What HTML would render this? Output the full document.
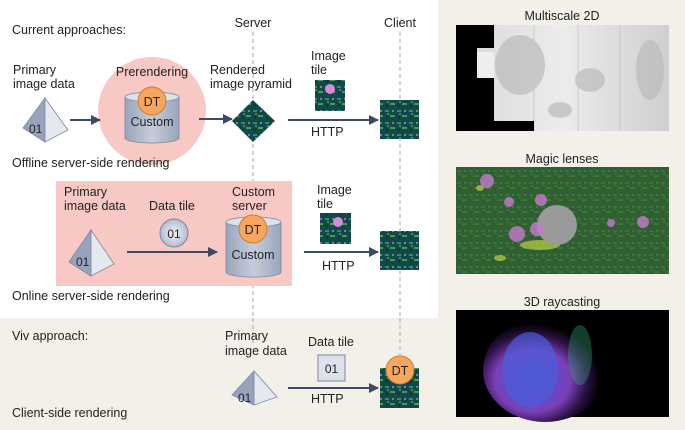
<!DOCTYPE html>
<html><head><meta charset="utf-8"><style>
body{margin:0;background:#f3f0ea;}
svg{display:block;font-family:"Liberation Sans",Arial,sans-serif;}
</style></head><body>
<svg width="685" height="430" viewBox="0 0 685 430" xmlns="http://www.w3.org/2000/svg">
<defs>
<linearGradient id="cyl" x1="0" x2="1"><stop offset="0" stop-color="#9aa5bb"/><stop offset="0.5" stop-color="#c6cdd9"/><stop offset="1" stop-color="#9aa5bb"/></linearGradient>
<radialGradient id="dc"><stop offset="0" stop-color="#f0f2f6"/><stop offset="1" stop-color="#b3bccc"/></radialGradient>
<pattern id="tis" width="12" height="12" patternUnits="userSpaceOnUse">
<rect width="12" height="12" fill="#0f4a46"/><rect x="1" y="2" width="4" height="2" fill="#2e8c75"/><rect x="6" y="7" width="5" height="2" fill="#4a9a5a"/><circle cx="9" cy="3" r="1" fill="#c77ad0"/><rect x="2" y="8" width="2" height="3" fill="#1b2f4a"/><circle cx="4" cy="6" r="0.8" fill="#9bd07a"/></pattern>
<linearGradient id="ms" x1="0" x2="1"><stop offset="0" stop-color="#d8d8d8"/><stop offset="0.5" stop-color="#ececec"/><stop offset="1" stop-color="#cfcfcf"/></linearGradient>
<radialGradient id="d3" cx="0.4" cy="0.6" r="0.55"><stop offset="0" stop-color="#4a55d8"/><stop offset="0.55" stop-color="#7a3fb8"/><stop offset="0.8" stop-color="#2a1040"/><stop offset="1" stop-color="#000"/></radialGradient>
<marker id="ah" viewBox="0 0 10 10" refX="9" refY="5" markerWidth="5" markerHeight="5" orient="auto"><path d="M0,0L10,5L0,10z" fill="#3d4a63"/></marker>
</defs>
<rect x="0" y="0" width="438" height="318" fill="#fff"/>
<g stroke="#aaa" stroke-dasharray="4,3" stroke-width="1"><line x1="253" y1="32" x2="253" y2="350"/><line x1="400" y1="32" x2="400" y2="360"/></g>
<g font-size="12.5" fill="#222">
<text x="253" y="27" text-anchor="middle">Server</text>
<text x="400" y="27" text-anchor="middle">Client</text>
<text x="12" y="34">Current approaches:</text>
<text x="13" y="74">Primary</text><text x="13" y="88">image data</text>
</g>
<circle cx="152" cy="111" r="54" fill="#f8c9c4"/>
<rect x="56" y="181" width="236" height="105" fill="#f8c9c4"/>
<rect x="0" y="318" width="438" height="112" fill="#f3f0ea"/>
<g stroke="#aaa" stroke-dasharray="4,3"><line x1="253" y1="318" x2="253" y2="345"/><line x1="400" y1="318" x2="400" y2="360"/></g>
<g stroke="#7a869e" stroke-width="0.8">
<path d="M45,98 L23,128 L45,142 Z" fill="#97a3bb"/><path d="M45,98 L68,130 L45,142 Z" fill="#e4e8ef"/></g>
<text x="29" y="133" font-size="12" fill="#222">01</text>
<g stroke="#7a869e" stroke-width="0.8"><path d="M91,230 L69,262 L91,276 Z" fill="#97a3bb"/><path d="M91,230 L114,264 L91,276 Z" fill="#e4e8ef"/></g>
<text x="76" y="266" font-size="12" fill="#222">01</text>
<g stroke="#7a869e" stroke-width="0.8"><path d="M254,371 L232,395 L254,405 Z" fill="#97a3bb"/><path d="M254,371 L277,397 L254,405 Z" fill="#e4e8ef"/></g>
<text x="238" y="402" font-size="12" fill="#222">01</text>
<g stroke="#7a869e" stroke-width="0.8">
<path d="M125,97 V138 A27,5 0 0 0 179,138 V97" fill="url(#cyl)"/><ellipse cx="152" cy="97" rx="27" ry="5" fill="#dde1e9"/>
<path d="M226,222 V272 A27,5 0 0 0 281,272 V222" fill="url(#cyl)"/><ellipse cx="253.5" cy="222" rx="27.5" ry="5" fill="#dde1e9"/>
</g>
<g stroke="#d27a30" stroke-width="1" fill="#f7a660"><circle cx="152" cy="101" r="14"/><circle cx="253" cy="229" r="14"/></g>
<g font-size="12.5" fill="#222" text-anchor="middle">
<text x="152" y="76">Prerendering</text>
<text x="152" y="106">DT</text><text x="152" y="126">Custom</text>
<text x="253" y="234">DT</text><text x="253" y="259">Custom</text>
</g>
<g stroke="#3d4a63" stroke-width="2" marker-end="url(#ah)">
<line x1="70" y1="120" x2="100" y2="120"/><line x1="199" y1="119" x2="232" y2="119"/>
<line x1="288" y1="120" x2="378" y2="120"/><line x1="127" y1="252" x2="217" y2="252"/>
<line x1="304" y1="252" x2="378" y2="252"/><line x1="288" y1="388" x2="378" y2="388"/>
</g>
<path d="M253,100 L275,121 L253,142 L232,121 Z" fill="url(#tis)"/>
<rect x="315" y="80" width="30" height="31" fill="url(#tis)"/><circle cx="330" cy="89" r="5" fill="#d78ad8"/>
<rect x="380" y="100" width="39" height="39" fill="url(#tis)"/>
<rect x="320" y="213" width="31" height="31" fill="url(#tis)"/><circle cx="338" cy="222" r="5" fill="#d78ad8"/>
<rect x="380" y="231" width="39" height="39" fill="url(#tis)"/>
<rect x="380" y="368" width="39" height="40" fill="url(#tis)"/>
<circle cx="400" cy="370" r="14" fill="#f7a660" stroke="#d27a30"/>
<text x="400" y="375" font-size="12.5" text-anchor="middle" fill="#222">DT</text>
<circle cx="174" cy="233" r="14" fill="url(#dc)" stroke="#7a869e"/>
<text x="174" y="238" font-size="12" text-anchor="middle" fill="#222">01</text>
<rect x="318" y="355" width="27" height="26" fill="#dde1e9" stroke="#7a869e"/>
<text x="331.5" y="373" font-size="12" text-anchor="middle" fill="#222">01</text>
<g font-size="12.5" fill="#222">
<text x="210" y="74">Rendered</text><text x="210" y="88">image pyramid</text>
<text x="311" y="60">Image</text><text x="311" y="74">tile</text>
<text x="311" y="136">HTTP</text>
<text x="12" y="167">Offline server-side rendering</text>
<text x="64" y="196">Primary</text><text x="64" y="210">image data</text>
<text x="149" y="210">Data tile</text>
<text x="232" y="196">Custom</text><text x="232" y="210">server</text>
<text x="317" y="194">Image</text><text x="317" y="208">tile</text>
<text x="322" y="270">HTTP</text>
<text x="12" y="300">Online server-side rendering</text>
<text x="12" y="340">Viv approach:</text>
<text x="225" y="340">Primary</text><text x="225" y="355">image data</text>
<text x="308" y="346">Data tile</text>
<text x="311" y="403">HTTP</text>
<text x="12" y="417">Client-side rendering</text>
<text x="562" y="20" text-anchor="middle">Multiscale 2D</text>
<text x="562" y="163" text-anchor="middle">Magic lenses</text>
<text x="562" y="306" text-anchor="middle">3D raycasting</text>
</g>
<rect x="456" y="25" width="213" height="106" fill="url(#ms)"/>
<g fill="#bbb" opacity="0.7"><ellipse cx="520" cy="65" rx="25" ry="30"/><ellipse cx="560" cy="110" rx="12" ry="8"/><ellipse cx="650" cy="70" rx="14" ry="30"/><ellipse cx="590" cy="80" rx="15" ry="12"/></g>
<g stroke="#c8c8c8"><line x1="534" y1="25" x2="534" y2="131"/><line x1="578" y1="25" x2="578" y2="131"/><line x1="620" y1="25" x2="620" y2="131"/></g>
<path d="M456,25 H494 V48 H477 V78 H494 V121 H534 V131 H456 Z" fill="#000"/>
<rect x="477" y="52" width="17" height="26" fill="#eee"/>
<rect x="456" y="167" width="213" height="107" fill="#3b6a28"/>
<rect x="456" y="167" width="213" height="107" fill="url(#tis)" opacity="0.3"/>
<g fill="#d8e04a" opacity="0.6"><ellipse cx="540" cy="245" rx="20" ry="5"/><ellipse cx="480" cy="188" rx="4" ry="3"/><ellipse cx="500" cy="258" rx="6" ry="3"/></g>
<circle cx="557" cy="225" r="20" fill="#9a9a9a"/>
<g fill="#c77ad0" opacity="0.8"><circle cx="487" cy="181" r="7"/><circle cx="517" cy="234" r="8"/><circle cx="541" cy="200" r="6"/><circle cx="509" cy="202" r="5"/><circle cx="643" cy="222" r="6"/><circle cx="611" cy="223" r="4"/><circle cx="537" cy="229" r="7"/></g>
<rect x="456" y="310" width="213" height="107" fill="#000"/>
<ellipse cx="545" cy="370" rx="62" ry="52" fill="url(#d3)"/>
<ellipse cx="530" cy="370" rx="28" ry="38" fill="#4d5cd8" opacity="0.7"/>
<ellipse cx="580" cy="355" rx="12" ry="30" fill="#3bb07a" opacity="0.35"/>
</svg>
</body></html>
